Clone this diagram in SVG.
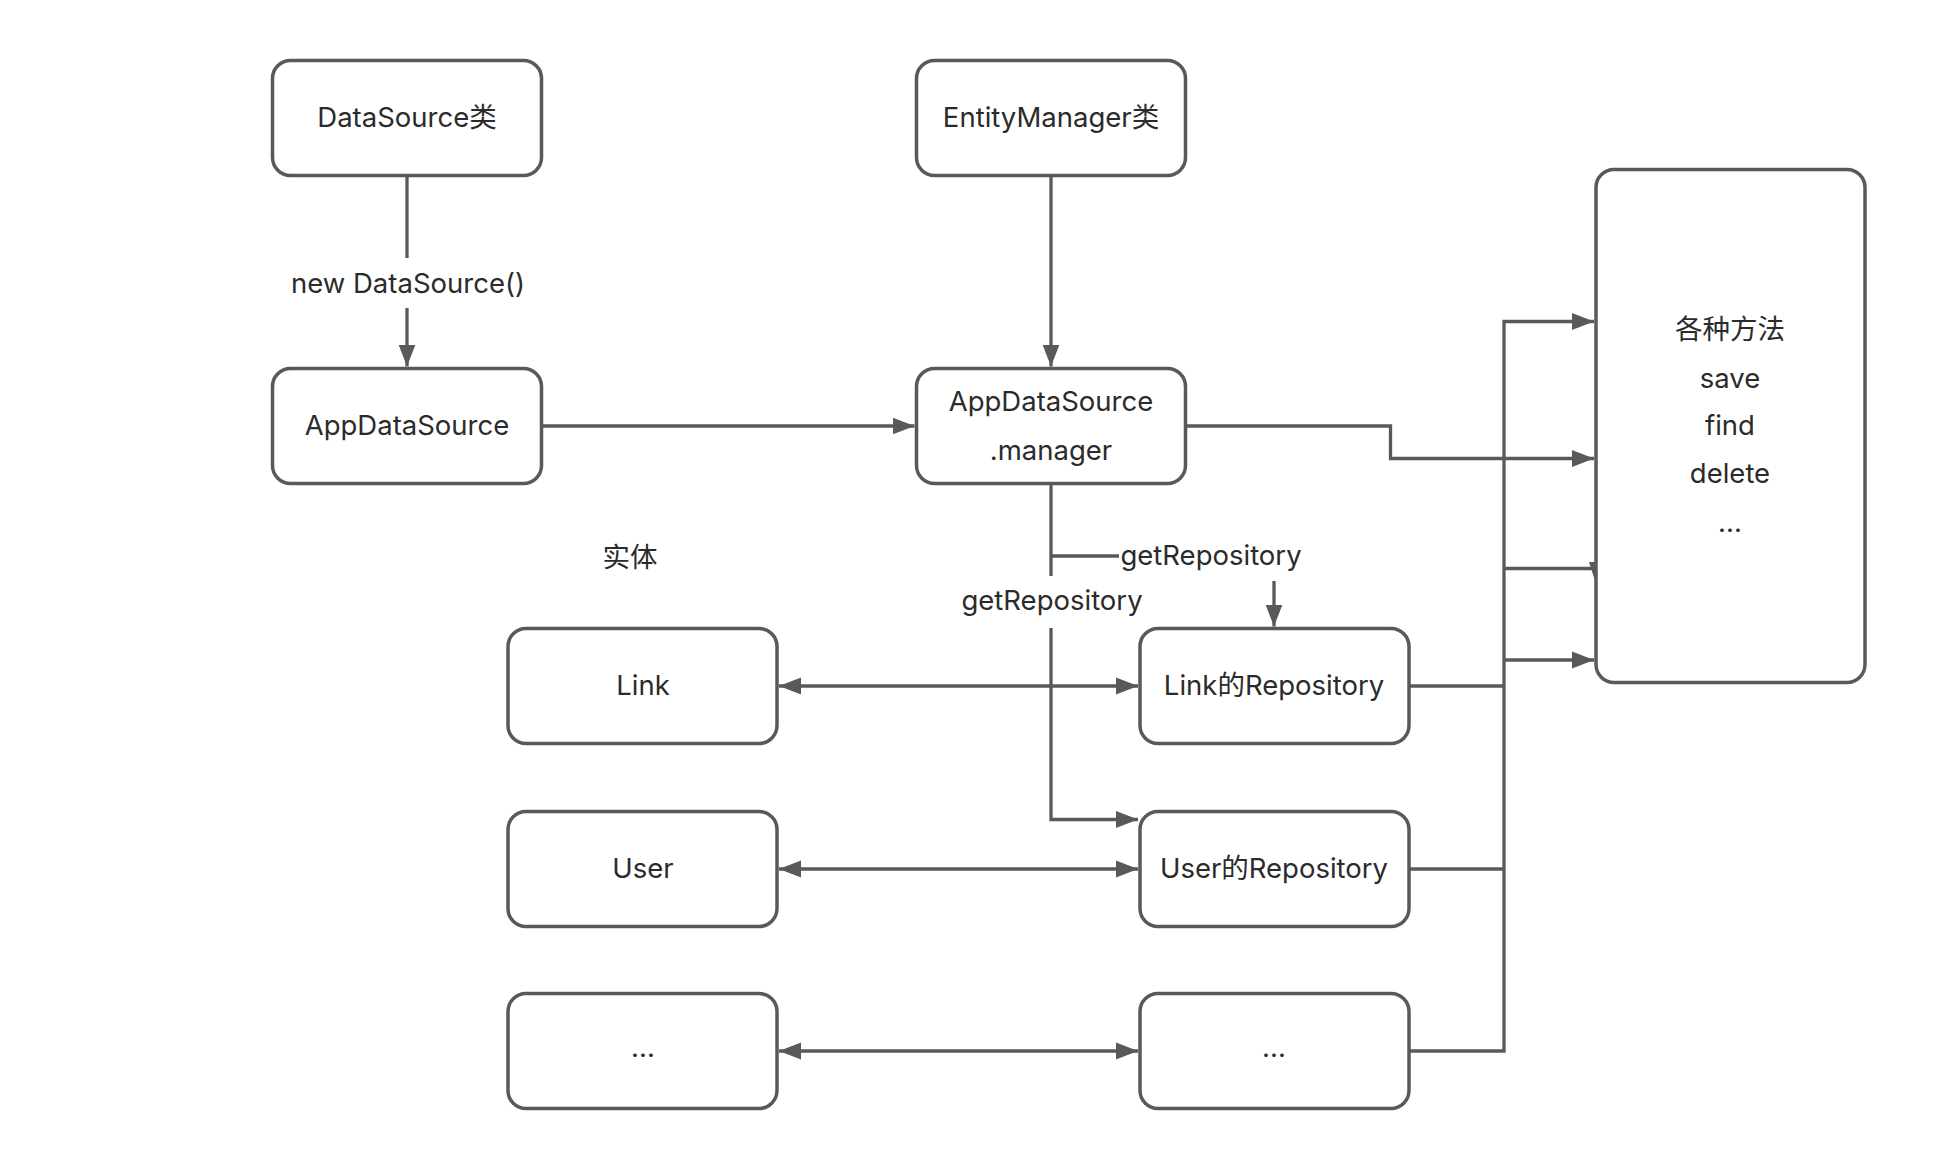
<svg xmlns="http://www.w3.org/2000/svg" width="1938" height="1166" viewBox="0 0 1938 1166">
<style>
.node rect{fill:#fff;stroke:#595959;stroke-width:3.5}
text{font-family:Inter,"Noto Sans CJK SC",sans-serif;font-size:27.5px;fill:#2b2b2b;text-anchor:middle}
.c{dominant-baseline:central}
.edge{fill:none;stroke:#595959;stroke-width:3.3}
</style>
<defs>
<marker id="ah" markerUnits="userSpaceOnUse" markerWidth="24" markerHeight="18" refX="22" refY="9" orient="auto">
<path d="M0,0.5 L22,9 L0,17.5 Z" fill="#595959"/>
</marker>
<marker id="as" markerUnits="userSpaceOnUse" markerWidth="24" markerHeight="18" refX="22" refY="9" orient="auto-start-reverse">
<path d="M0,0.5 L22,9 L0,17.5 Z" fill="#595959"/>
</marker>
</defs>
<rect width="1938" height="1166" fill="#fff"/>
<g id="connectors">
<path class="edge" d="M407,175.5 V258"/>
<path class="edge" d="M407,308 V366.5" marker-end="url(#ah)"/>
<path class="edge" d="M1051,175.5 V366.5" marker-end="url(#ah)"/>
<path class="edge" d="M541.5,426 H914.5" marker-end="url(#ah)"/>
<path class="edge" d="M1185.5,426 H1390.5 V458.5 H1594" marker-end="url(#ah)"/>
<path class="edge" d="M1051,483.5 V576"/>
<path class="edge" d="M1051,556 H1119"/>
<path class="edge" d="M1274,581 V626.5" marker-end="url(#ah)"/>
<path class="edge" d="M1051,628 V819.5 H1138" marker-end="url(#ah)"/>
<path class="edge" d="M779,686 H1138" marker-start="url(#as)" marker-end="url(#ah)"/>
<path class="edge" d="M779,869 H1138" marker-start="url(#as)" marker-end="url(#ah)"/>
<path class="edge" d="M779,1051 H1138" marker-start="url(#as)" marker-end="url(#ah)"/>
<path class="edge" d="M1409,686 H1504"/>
<path class="edge" d="M1409,869 H1504"/>
<path class="edge" d="M1409,1051 H1504 V321.5 H1594" marker-end="url(#ah)"/>
<path class="edge" d="M1504,568.5 H1596"/>
<path d="M1589,562 L1596,584 L1603,562 Z" fill="#595959"/>
<path class="edge" d="M1504,660 H1594" marker-end="url(#ah)"/>
<text class="c" x="408" y="283">new DataSource()</text>
<text class="c" x="1052" y="600">getRepository</text>
<text class="c" x="1211" y="555">getRepository</text>
</g>
<g id="n-datasource" class="node">
<rect x="272.5" y="60.5" width="269" height="115" rx="18"/>
<text class="c" x="407" y="117">DataSource类</text>
</g>
<g id="n-entitymanager" class="node">
<rect x="916.5" y="60.5" width="269" height="115" rx="18"/>
<text class="c" x="1051" y="117">EntityManager类</text>
</g>
<g id="n-appdatasource" class="node">
<rect x="272.5" y="368.5" width="269" height="115" rx="18"/>
<text class="c" x="407" y="425">AppDataSource</text>
</g>
<g id="n-manager" class="node">
<rect x="916.5" y="368.5" width="269" height="115" rx="18"/>
<text class="c" x="1051" y="401">AppDataSource</text>
<text class="c" x="1051" y="450">.manager</text>
</g>
<g id="n-methods" class="node">
<rect x="1596" y="169.5" width="269" height="513" rx="18"/>
<text class="c" x="1730" y="329">各种方法</text>
<text class="c" x="1730" y="378">save</text>
<text class="c" x="1730" y="425">find</text>
<text class="c" x="1730" y="473">delete</text>
<text x="1730" y="532">...</text>
</g>
<g id="l-entity">
<text class="c" x="630" y="557">实体</text>
</g>
<g id="n-link" class="node">
<rect x="508" y="628.5" width="269" height="115" rx="18"/>
<text class="c" x="643" y="685">Link</text>
</g>
<g id="n-linkrepo" class="node">
<rect x="1140" y="628.5" width="269" height="115" rx="18"/>
<text class="c" x="1274" y="685">Link的Repository</text>
</g>
<g id="n-user" class="node">
<rect x="508" y="811.5" width="269" height="115" rx="18"/>
<text class="c" x="643" y="868">User</text>
</g>
<g id="n-userrepo" class="node">
<rect x="1140" y="811.5" width="269" height="115" rx="18"/>
<text class="c" x="1274" y="868">User的Repository</text>
</g>
<g id="n-more-entity" class="node">
<rect x="508" y="993.5" width="269" height="115" rx="18"/>
<text x="643" y="1057">...</text>
</g>
<g id="n-more-repo" class="node">
<rect x="1140" y="993.5" width="269" height="115" rx="18"/>
<text x="1274" y="1057">...</text>
</g>
</svg>
